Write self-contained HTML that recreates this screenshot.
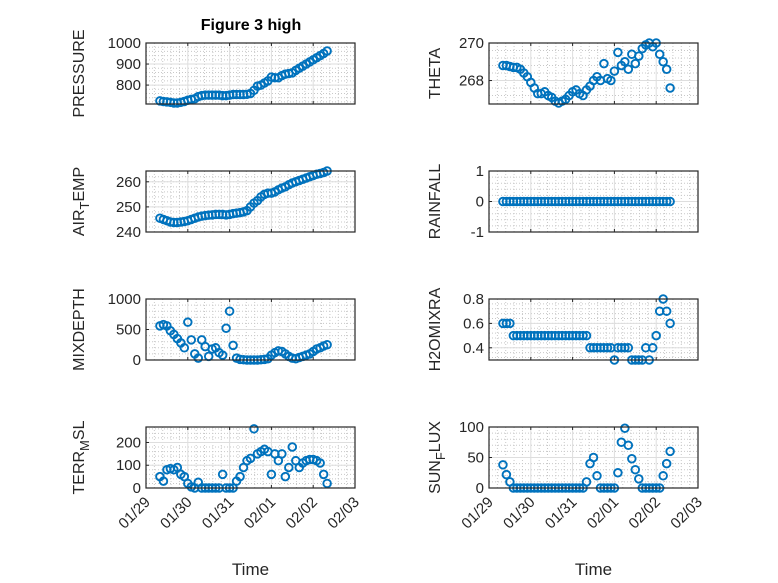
<!DOCTYPE html>
<html><head><meta charset="utf-8"><style>
body{margin:0;background:#fff;}
svg{display:block;font-family:"Liberation Sans",sans-serif;}
</style></head><body>
<svg id="fig" width="778" height="583" viewBox="0 0 778 583"></svg>
<script>
const hours=[8,10,12,14,16,18,20,22,24,26,28,30,32,34,36,38,40,42,44,46,48,50,52,54,56,58,60,62,64,66,68,70,72,74,76,78,80,82,84,86,88,90,92,94,96,98,100,102,104];
const xTickLabels=["01/29","01/30","01/31","02/01","02/02","02/03"];
const pressure=[725,722,720,718,715,715,718,722,728,732,735,745,750,752,752,752,752,752,750,750,752,755,755,755,755,756,760,775,795,800,810,820,838,835,835,845,852,855,858,870,880,890,900,910,920,930,940,950,962];
const airTemp=[245.5,245,244.5,244,243.8,243.8,244,244.2,244.5,245,245.5,246,246.3,246.5,246.7,246.8,247,247,247,246.8,247,247.3,247.5,247.7,248,248.5,250,251.5,252.5,254,255,255.5,255.5,256,256.8,257.5,258,258.8,259.5,260,260.5,261,261.5,262,262.5,263,263.3,263.7,264.3];
const theta=[268.8,268.8,268.75,268.7,268.7,268.6,268.4,268.2,267.9,267.6,267.3,267.3,267.4,267.2,267.1,266.9,266.8,266.9,267.0,267.2,267.4,267.5,267.3,267.2,267.5,267.7,268.0,268.2,268.0,268.9,268.1,268.0,268.5,269.5,268.8,269.0,268.6,269.4,268.9,269.3,269.7,269.9,270.0,269.8,270.0,269.4,269.0,268.6,267.6];
const rainfall=[0,0,0,0,0,0,0,0,0,0,0,0,0,0,0,0,0,0,0,0,0,0,0,0,0,0,0,0,0,0,0,0,0,0,0,0,0,0,0,0,0,0,0,0,0,0,0,0,0];
const mixdepth=[560,580,560,480,420,350,280,200,620,330,100,30,330,220,60,180,200,120,80,520,800,240,30,10,5,0,0,0,0,5,10,20,80,120,150,140,100,60,30,20,40,60,80,100,140,180,200,230,250];
const h2omixra=[0.6,0.6,0.6,0.5,0.5,0.5,0.5,0.5,0.5,0.5,0.5,0.5,0.5,0.5,0.5,0.5,0.5,0.5,0.5,0.5,0.5,0.5,0.5,0.5,0.5,0.4,0.4,0.4,0.4,0.4,0.4,0.4,0.3,0.4,0.4,0.4,0.4,0.3,0.3,0.3,0.3,0.4,0.3,0.4,0.5,0.7,0.8,0.7,0.6];
const terrMsl=[50,30,80,85,80,90,60,50,20,5,0,25,0,0,0,0,0,0,60,0,0,0,30,50,90,120,130,260,150,160,170,160,60,150,120,150,50,90,180,120,90,110,120,125,125,120,110,60,20];
const sunFlux=[38,22,10,0,0,0,0,0,0,0,0,0,0,0,0,0,0,0,0,0,0,0,0,0,10,40,50,20,0,0,0,0,0,25,75,98,70,48,30,15,0,0,0,0,0,0,20,40,60];

const NS="http://www.w3.org/2000/svg";
const svg=document.getElementById('fig');
function mk(tag,attrs,parent){const e=document.createElementNS(NS,tag);for(const k in attrs)e.setAttribute(k,attrs[k]);(parent||svg).appendChild(e);return e;}

const panels=[
 {label:["PRESSURE"],data:pressure,ylim:[710,1000],ticks:[800,900,1000],col:0,row:0,name:"pressure"},
 {label:["THETA"],data:theta,ylim:[266.75,270],ticks:[268,270],col:1,row:0,name:"theta"},
 {label:["AIR","T","EMP"],data:airTemp,ylim:[240,264.3],ticks:[240,250,260],col:0,row:1,name:"air-temp"},
 {label:["RAINFALL"],data:rainfall,ylim:[-1,1],ticks:[-1,0,1],col:1,row:1,name:"rainfall"},
 {label:["MIXDEPTH"],data:mixdepth,ylim:[0,1000],ticks:[0,500,1000],col:0,row:2,name:"mixdepth"},
 {label:["H2OMIXRA"],data:h2omixra,ylim:[0.3,0.8],ticks:[0.4,0.6,0.8],col:1,row:2,name:"h2omixra"},
 {label:["TERR","M","SL"],data:terrMsl,ylim:[0,268],ticks:[0,100,200],col:0,row:3,name:"terr-msl"},
 {label:["SUN","F","LUX"],data:sunFlux,ylim:[0,100],ticks:[0,50,100],col:1,row:3,name:"sun-flux"}
];
const W=209,H=61;
panels.forEach(p=>{
 const x0=p.col?489:146, y0=43+128*p.row;
 const g=mk('g',{});
 
 
 const xs=d=>x0+d/5*W;
 const ys=v=>y0+H-(v-p.ylim[0])/(p.ylim[1]-p.ylim[0])*H;
 mk('rect',{x:x0,y:y0,width:W,height:H,fill:'#fff'},g);
 for(let i=1;i<25;i++){if(i%5===0)continue;const x=x0+i/25*W;mk('line',{x1:x,x2:x,y1:y0,y2:y0+H,stroke:'#c8c8c8','stroke-width':1,'stroke-dasharray':'1,2'},g);}
 const st=(p.ticks[1]-p.ticks[0])/5;
 for(let v=p.ylim[0]-((p.ylim[0]%st)+st)%st;v<=p.ylim[1];v+=st){const y=ys(v);if(y<y0+1||y>y0+H-1)continue;mk('line',{x1:x0,x2:x0+W,y1:y,y2:y,stroke:'#c8c8c8','stroke-width':1,'stroke-dasharray':'1,2'},g);}
 for(let d=1;d<5;d++){const x=xs(d);mk('line',{x1:x,x2:x,y1:y0,y2:y0+H,stroke:'#dedede','stroke-width':1},g);}
 p.ticks.forEach(v=>{const y=ys(v);mk('line',{x1:x0,x2:x0+W,y1:y,y2:y,stroke:'#dedede','stroke-width':1},g);
   const t=mk('text',{x:x0-5,y:y+5,'text-anchor':'end','font-size':15,fill:'#262626'},g);t.textContent=String(v);
   
   mk('line',{x1:x0,x2:x0+3,y1:y,y2:y,stroke:'#262626'},g);});
 for(let d=0;d<=5;d++){const x=xs(d);mk('line',{x1:x,x2:x,y1:y0+H,y2:y0+H-3,stroke:'#262626'},g);mk('line',{x1:x,x2:x,y1:y0,y2:y0+3,stroke:'#262626'},g);}
 p.data.forEach((v,i)=>{const c=mk('circle',{cx:xs(hours[i]/24),cy:ys(v),r:3.8,fill:'none',stroke:'#0072BD','stroke-width':1.9},g);
   });
 mk('rect',{x:x0,y:y0,width:W,height:H,fill:'none',stroke:'#262626','stroke-width':1.2},g);
 const lx=p.col?440:84, ly=y0+H/2;
 const t=mk('text',{x:0,y:0,transform:`translate(${lx},${ly}) rotate(-90)`,'text-anchor':'middle','font-size':16,fill:'#262626'},g);
 
 if(p.label.length===1)t.textContent=p.label[0];
 else{const a=mk('tspan',{},t);a.textContent=p.label[0];const b=mk('tspan',{dy:5,'font-size':13},t);b.textContent=p.label[1];const c=mk('tspan',{dy:-5},t);c.textContent=p.label[2];}
 if(p.row===3){
  xTickLabels.forEach((s,d)=>{const x=xs(d),y=y0+H+10;
   const tt=mk('text',{x:0,y:0,transform:`translate(${x+5},${y+5}) rotate(-45)`,'text-anchor':'end','font-size':15,fill:'#262626'},g);tt.textContent=s;
   });
  const xl=mk('text',{x:x0+W/2,y:575,'text-anchor':'middle','font-size':17,fill:'#262626'},g);xl.textContent='Time';
  
 }
});
const title=mk('text',{x:251,y:30,'text-anchor':'middle','font-size':16,'font-weight':'bold',fill:'#000'});
title.textContent='Figure 3 high';


</script>
</body></html>
